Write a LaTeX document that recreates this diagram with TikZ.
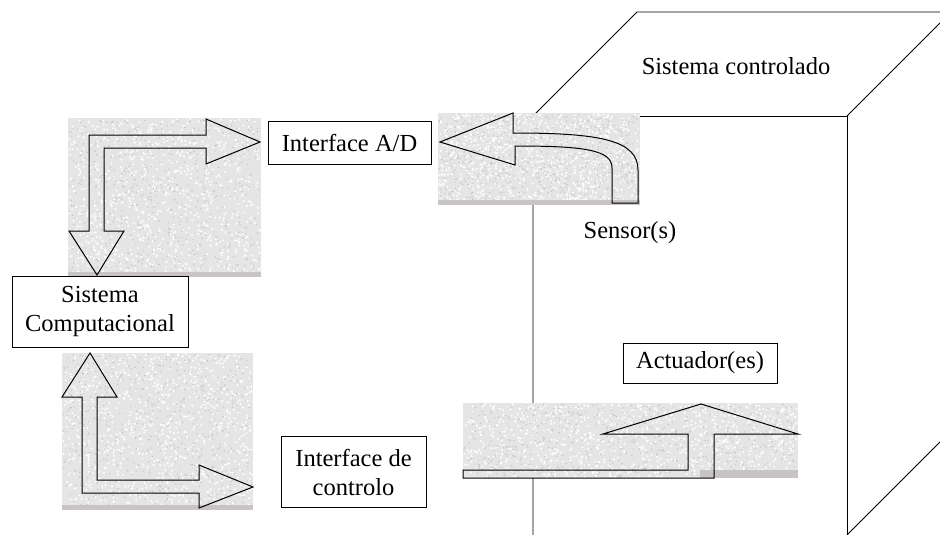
\documentclass[tikz,border=0pt]{standalone}
\usepackage{fontspec}
\setmainfont{Liberation Serif}
\begin{document}
\begin{tikzpicture}[x=1pt,y=-1pt,
  edge/.style={draw=black,line width=0.9pt},
  outline/.style={draw=black,line width=1pt,line join=miter},
  tbox/.style={draw=black,line width=0.9pt,fill=white,inner sep=0pt,align=center,font=\fontsize{24.5}{29}\selectfont},
  lbl/.style={inner sep=0pt,font=\fontsize{24.5}{29}\selectfont},
  texbg/.style={fill=black!10},
  strip/.style={fill={rgb,255:red,200;green,196;blue,196}}]
\useasboundingbox (0,0) rectangle (940,535);
\clip (0,0) rectangle (940,535);
\pgfmathsetseed{7}
\newcommand{\noiserect}[4]{%
  \fill[texbg] (#1,#2) rectangle (#3,#4);
  \foreach \k in {1,...,900}{%
    \pgfmathsetmacro\rx{#1+1+rnd*(#3-#1-2)}%
    \pgfmathsetmacro\ry{#2+1+rnd*(#4-#2-2)}%
    \fill[white] (\rx,\ry) circle[radius=1.1pt];}%
  \foreach \k in {1,...,600}{%
    \pgfmathsetmacro\rx{#1+1+rnd*(#3-#1-2)}%
    \pgfmathsetmacro\ry{#2+1+rnd*(#4-#2-2)}%
    \fill[black!22] (\rx,\ry) circle[radius=0.8pt];}%
}
% controlled system box
\draw[edge] (533,535) -- (533,116) -- (637,12) -- (960,12);
\draw[edge] (533,116) -- (847,116) -- (847,535);
\draw[edge] (847,116) -- (955,8);
\draw[edge] (847,535) -- (955,427);
\node[lbl] (sc) at (736,66) {Sistema controlado};
% textured backgrounds
\noiserect{68}{118}{261}{277}
\fill[strip] (68,272) rectangle (261,277);
\noiserect{438}{113}{640}{205}
\fill[strip] (438,200) rectangle (640,205);
\noiserect{463}{403}{798}{478}
\fill[strip] (700,470) rectangle (798,478);
\noiserect{62}{353}{253}{510}
\fill[strip] (62,505) rectangle (253,510);
% arrows
\draw[outline] (260,142) -- (206,119) -- (206,135) -- (89,135) -- (89,231) -- (69,231) -- (97,275) -- (124,231) -- (104,231) -- (104,148) -- (206,148) -- (206,164) -- cycle;
\draw[outline] (440,142) -- (513,113) -- (513,133) .. controls (600,133) and (638,140) .. (638,170) -- (638,203) -- (612,203) -- (612,168) .. controls (612,150) and (585,146) .. (515,146) -- (515,165) -- cycle;
\draw[outline] (701,404) -- (798,434) -- (714,434) -- (714,478) -- (463,478) -- (463,470) -- (688,470) -- (688,434) -- (603,434) -- cycle;
\draw[outline] (90,353) -- (117,397) -- (97,397) -- (97,480) -- (199,480) -- (199,465) -- (253,487) -- (199,508) -- (199,493) -- (82,493) -- (82,397) -- (62,397) -- cycle;
% labelled boxes
\node[tbox,minimum width=163pt,minimum height=43pt] (ad) at (349.5,142.5) {Interface A/D};
\node[tbox,minimum width=176pt,minimum height=71pt] (comp) at (100,311.5) {Sistema\\Computacional};
\node[tbox,minimum width=145pt,minimum height=71pt] (ctl) at (353.5,472) {Interface de\\controlo};
\node[tbox,minimum width=154pt,minimum height=40pt] (act) at (700,363) {Actuador(es)};
\node[lbl] (sen) at (630,233) {Sensor(s)};
\end{tikzpicture}
\end{document}
